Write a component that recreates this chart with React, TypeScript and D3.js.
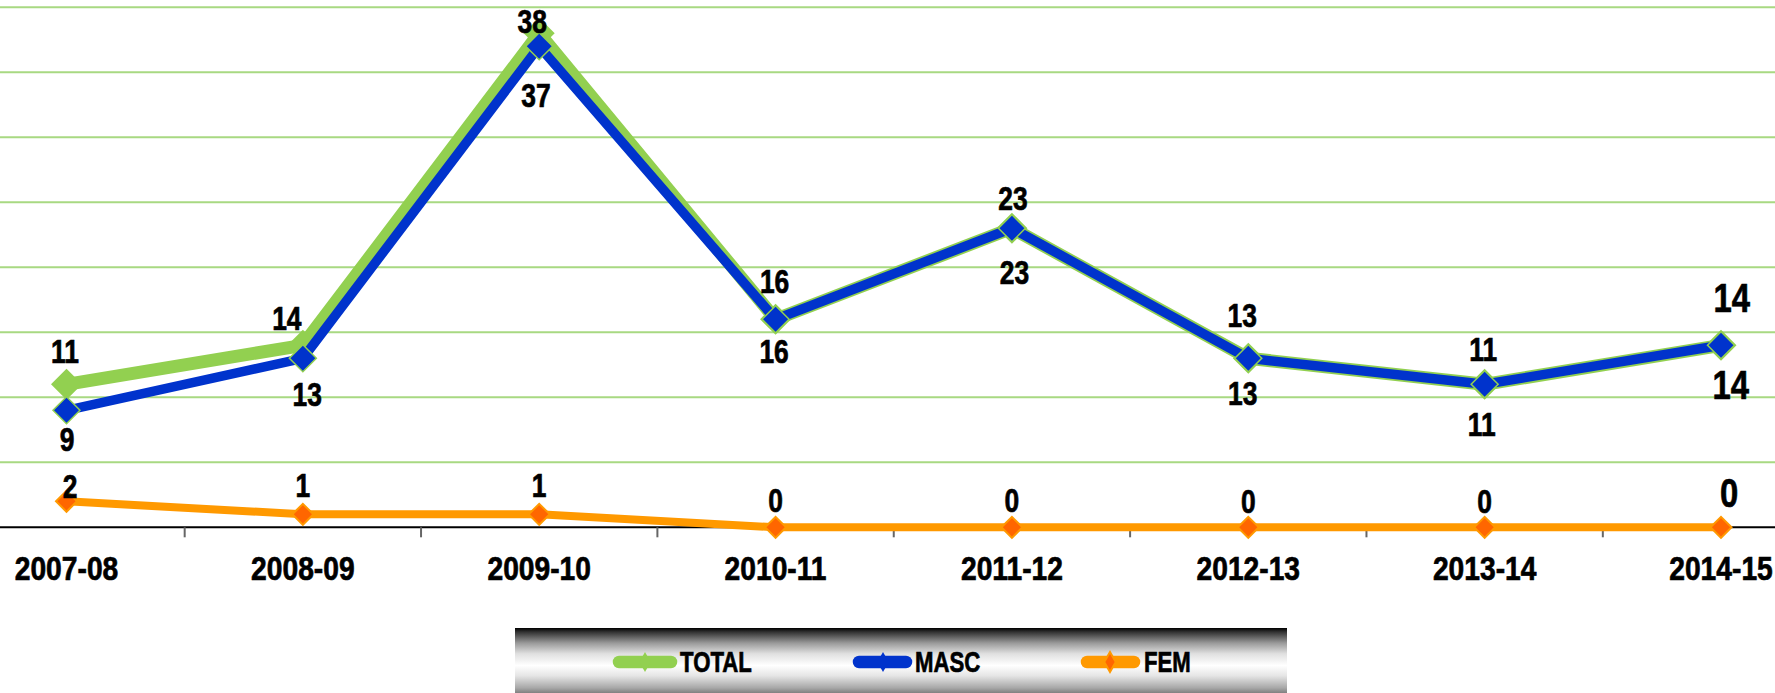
import * as d3 from 'd3';

const years = ['2007-08', '2008-09', '2009-10', '2010-11', '2011-12', '2012-13', '2013-14', '2014-15'];
const total = [11, 14, 38, 16, 23, 13, 11, 14];
const masc = [9, 13, 37, 16, 23, 13, 11, 14];
const fem = [2, 1, 1, 0, 0, 0, 0, 0];
const gridTicks = [5, 10, 15, 20, 25, 30, 35, 40];

// label nudges (baseline relative to the point)
const totalLabelDx = [-1.5, -16, -7, -1, 1, -6, -1.5, 10.7];
const totalLabelDy = [-21.6, -15, 0, -26, -18.3, -31.6, -23.6, -33.6];
const mascLabelDx = [0.5, 4.4, -3.3, -1.5, 2.5, -5.5, -3, 9.7];
const mascLabelDy = [40.4, 47.7, 60.4, 43.4, 56, 46.7, 51.7, 54];
const femLabelDx = [3.5, 0, 0, 0, 0, 0, 0, 8];
const femLabelDy = [-3, -17.6, -17.6, -15, -15, -14, -14, -20.6];

const W = 1775;
const H = 693;
const GREEN = '#92D050';
const BLUE = '#0033CC';
const ORANGE = '#FF9900';
const ORANGE_DARK = '#FF6600';
const FONT = "'Liberation Sans', Arial, sans-serif";

// no condensed face installed, so squeeze a bold sans horizontally
function Label({
  x,
  y,
  size,
  sx = 0.8,
  anchor = 'middle',
  children,
}: {
  x: number;
  y: number;
  size: number;
  sx?: number;
  anchor?: 'middle' | 'start';
  children: React.ReactNode;
}) {
  return (
    <text
      transform={`translate(${x},${y}) scale(${sx},1)`}
      textAnchor={anchor}
      fontSize={size}
      fontWeight="bold"
      fill="#000"
      stroke="#000"
      strokeWidth={0.7}
    >
      {children}
    </text>
  );
}

export default function App() {
  const x = d3.scalePoint<string>().domain(years).range([66.5, 1721]);
  const y = d3.scaleLinear().domain([0, 40]).range([527.3, 7.3]);
  const step = x.step();

  const line = d3
    .line<number>()
    .x((_, i) => x(years[i]) as number)
    .y((d) => y(d));

  const square = (half: number) => d3.symbol(d3.symbolSquare, 2 * half * half)() as string;
  const legendDiamond = d3.symbol(d3.symbolDiamond, 115)() as string;

  const labelSize = (i: number) => (i === years.length - 1 ? 41 : 33);

  const legendItems = [
    { name: 'TOTAL', color: GREEN, fill: GREEN, x0: 613, x1: 677, mx: 645, tx: 680 },
    { name: 'MASC', color: BLUE, fill: BLUE, x0: 853, x1: 912, mx: 883, tx: 915 },
    { name: 'FEM', color: ORANGE, fill: ORANGE_DARK, x0: 1081, x1: 1140, mx: 1110, tx: 1144 },
  ];

  return (
    <svg
      width={W}
      height={H}
      style={{ position: 'absolute', left: 0, top: 0, background: '#fff' }}
      fontFamily={FONT}
    >
      <defs>
        <linearGradient id="legendGrad" x1="0" y1="0" x2="0" y2="1">
          <stop offset="0" stopColor="#000" />
          <stop offset="0.06" stopColor="#333" />
          <stop offset="0.22" stopColor="#999" />
          <stop offset="0.38" stopColor="#e0e0e0" />
          <stop offset="0.55" stopColor="#fff" />
          <stop offset="0.7" stopColor="#e6e6e6" />
          <stop offset="0.88" stopColor="#a8a8a8" />
          <stop offset="1" stopColor="#6a6a6a" />
        </linearGradient>
      </defs>

      {/* gridlines */}
      {gridTicks.map((t) => (
        <line key={t} x1={0} x2={W} y1={y(t)} y2={y(t)} stroke="#A8D982" strokeWidth={2} />
      ))}

      {/* category axis */}
      <line x1={0} x2={W} y1={y(0)} y2={y(0)} stroke="#000" strokeWidth={2} />
      {years.slice(0, -1).map((yr) => (
        <line
          key={yr}
          x1={(x(yr) as number) + step / 2}
          x2={(x(yr) as number) + step / 2}
          y1={y(0)}
          y2={y(0) + 10}
          stroke="#666"
          strokeWidth={2}
        />
      ))}
      {years.map((yr) => (
        <Label key={yr} x={x(yr) as number} y={y(0) + 52.7} size={34} sx={0.83}>
          {yr}
        </Label>
      ))}

      {/* TOTAL */}
      <path d={line(total) as string} fill="none" stroke={GREEN} strokeWidth={13} strokeLinejoin="round" />
      {total.map((v, i) => (
        <path
          key={i}
          d={square(15.5)}
          transform={`translate(${x(years[i])},${y(v)}) rotate(45)`}
          fill={GREEN}
        />
      ))}

      {/* MASC */}
      <path d={line(masc) as string} fill="none" stroke={BLUE} strokeWidth={9.5} strokeLinejoin="round" />
      {masc.map((v, i) => (
        <path
          key={i}
          d={square(13.5)}
          transform={`translate(${x(years[i])},${y(v)}) rotate(45)`}
          fill={BLUE}
          stroke={GREEN}
          strokeWidth={1.5}
        />
      ))}

      {/* FEM */}
      <path d={line(fem) as string} fill="none" stroke={ORANGE} strokeWidth={8} strokeLinejoin="round" />
      {fem.map((v, i) => (
        <path
          key={i}
          d={square(10.5)}
          transform={`translate(${x(years[i])},${y(v)}) rotate(45)`}
          fill={ORANGE_DARK}
          stroke={ORANGE}
          strokeWidth={2}
        />
      ))}

      {/* data labels */}
      {total.map((v, i) => (
        <Label
          key={'t' + i}
          x={(x(years[i]) as number) + totalLabelDx[i]}
          y={y(v) + totalLabelDy[i]}
          size={labelSize(i)}
        >
          {v}
        </Label>
      ))}
      {masc.map((v, i) => (
        <Label
          key={'m' + i}
          x={(x(years[i]) as number) + mascLabelDx[i]}
          y={y(v) + mascLabelDy[i]}
          size={labelSize(i)}
        >
          {v}
        </Label>
      ))}
      {fem.map((v, i) => (
        <Label
          key={'f' + i}
          x={(x(years[i]) as number) + femLabelDx[i]}
          y={y(v) + femLabelDy[i]}
          size={labelSize(i)}
        >
          {v}
        </Label>
      ))}

      {/* legend */}
      <rect x={515} y={628} width={772} height={68} fill="url(#legendGrad)" />
      {legendItems.map((it) => (
        <g key={it.name}>
          <line x1={it.x0 + 6} x2={it.x1 - 6} y1={662} y2={662} stroke={it.color} strokeWidth={12.5} strokeLinecap="round" />
          <path
            d={legendDiamond}
            transform={`translate(${it.mx},662)`}
            fill={it.fill}
            stroke={it.color}
            strokeWidth={it.name === 'FEM' ? 2 : 0}
          />
          <Label x={it.tx} y={671.7} size={30} sx={0.74} anchor="start">
            {it.name}
          </Label>
        </g>
      ))}
    </svg>
  );
}
